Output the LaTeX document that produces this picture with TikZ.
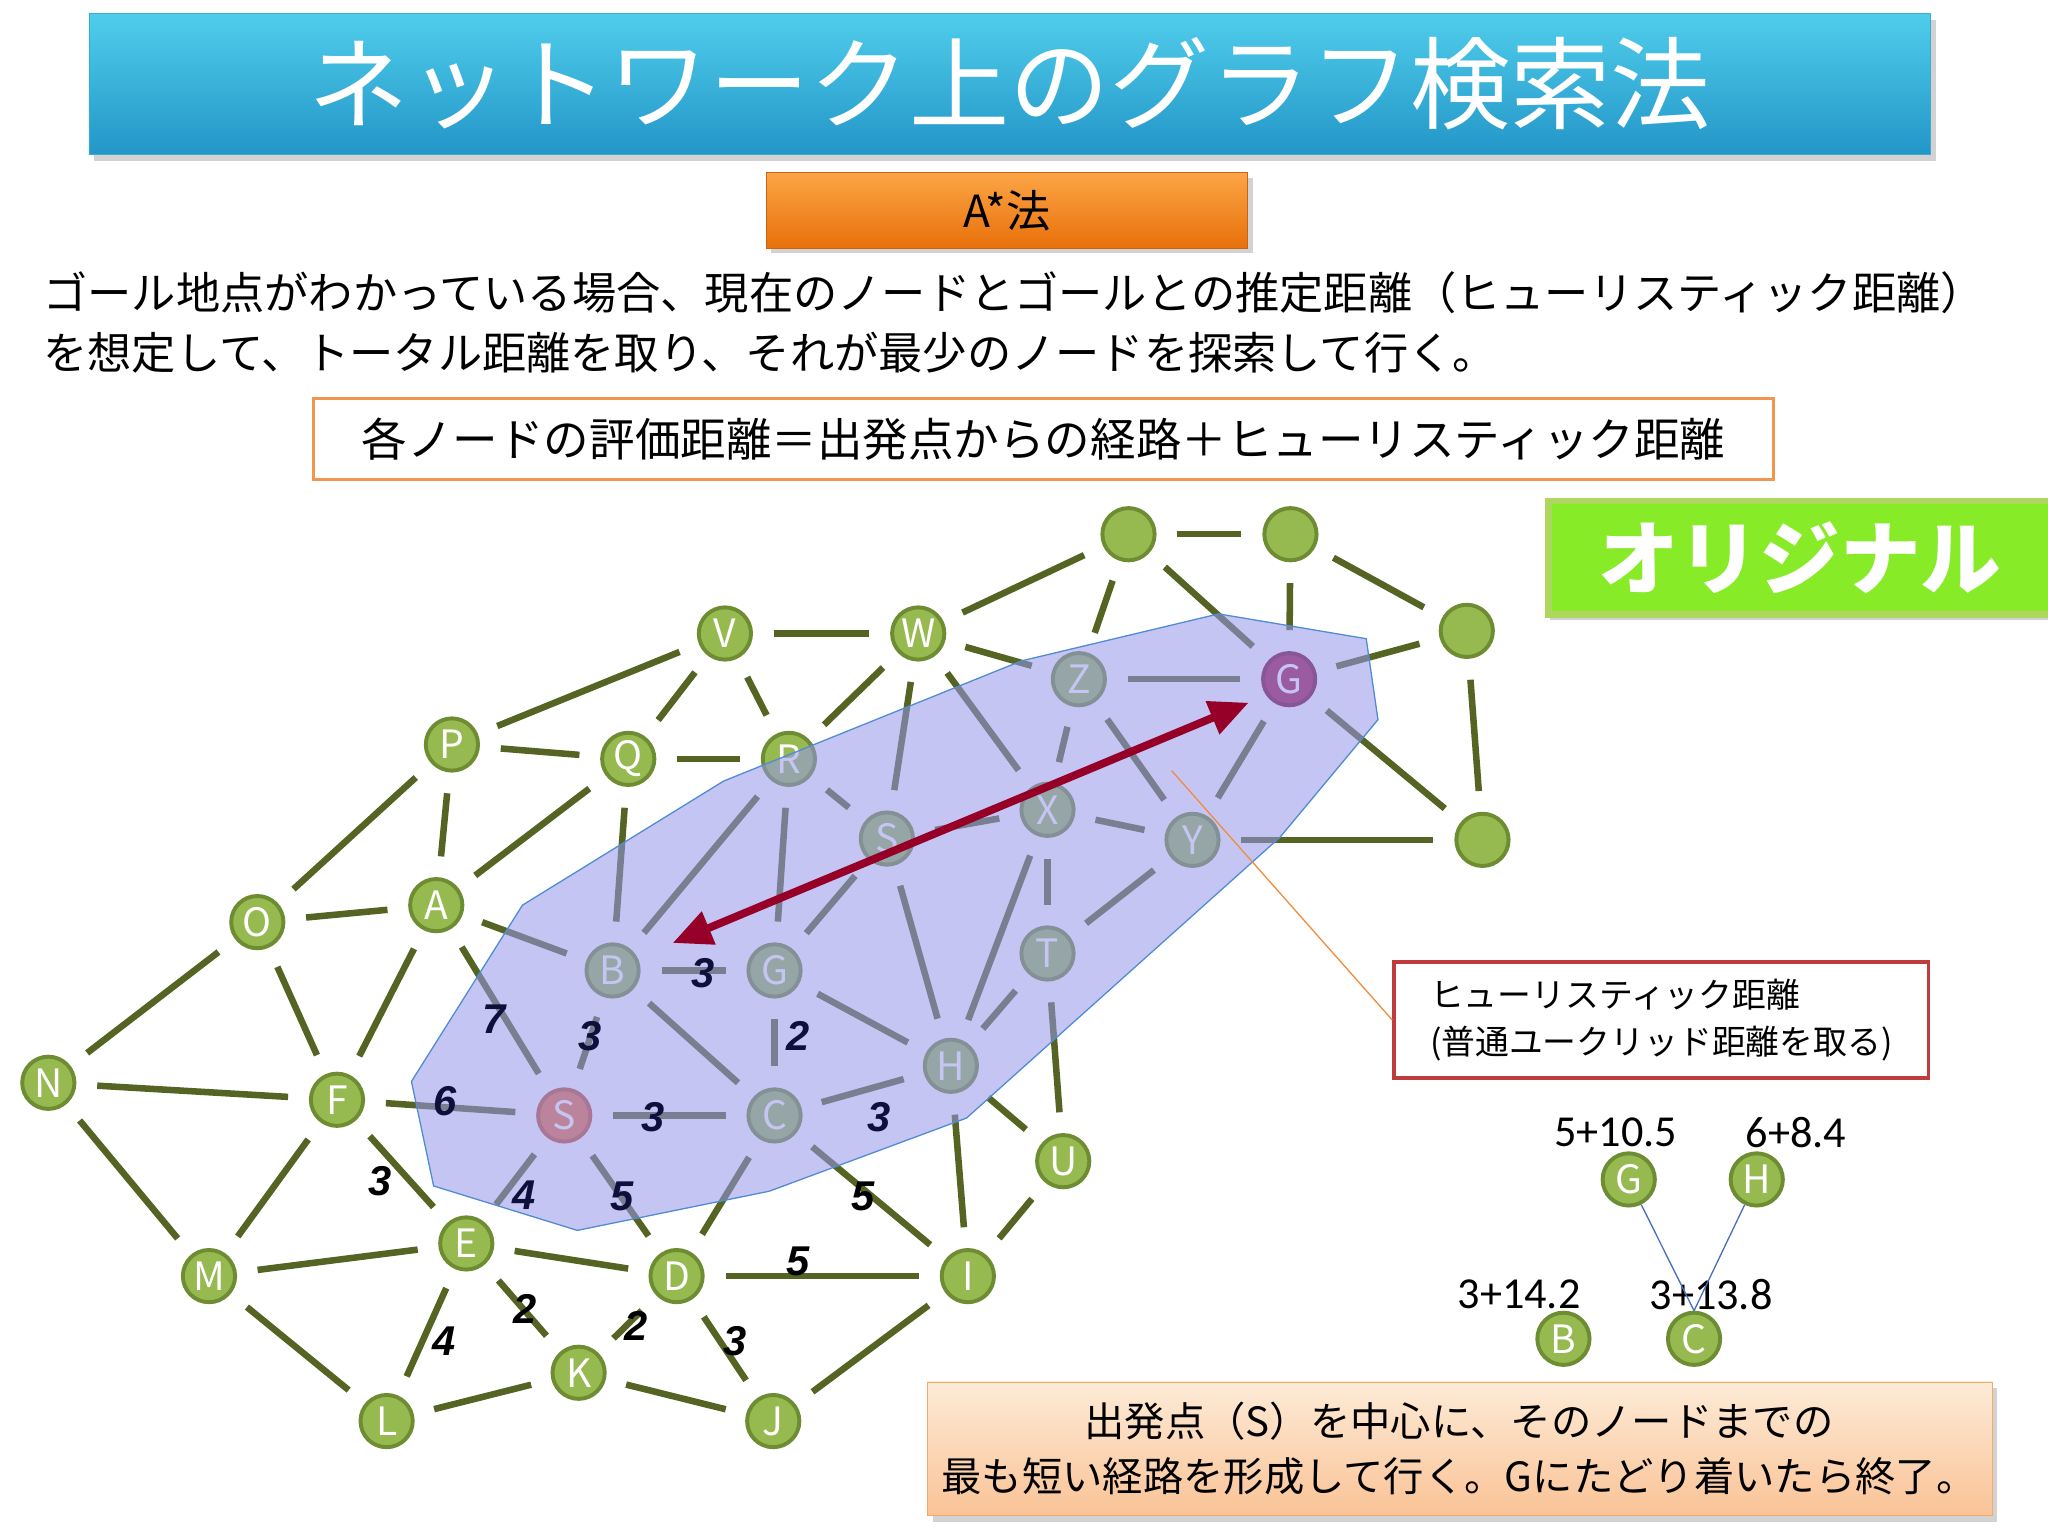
\documentclass[tikz,border=0pt]{standalone}
\usepackage{fontspec}
\setmainfont{Noto Sans CJK JP}
\newfontfamily\numf{Liberation Sans}
\newfontfamily\latf{Carlito}
\usetikzlibrary{arrows.meta}
\definecolor{edgec}{RGB}{85,100,35}
\definecolor{nodef}{RGB}{150,185,80}
\definecolor{noded}{RGB}{110,140,50}
\definecolor{blob}{RGB}{150,150,235}
\definecolor{blobd}{RGB}{80,140,210}
\definecolor{arr}{RGB}{150,0,40}
\definecolor{navy}{RGB}{15,15,60}
\definecolor{sfill}{RGB}{235,110,60}
\definecolor{sdraw}{RGB}{190,80,50}
\definecolor{gfill}{RGB}{160,20,70}
\definecolor{gdraw}{RGB}{120,10,50}
\definecolor{ttop}{RGB}{80,205,235}
\definecolor{tbot}{RGB}{35,150,200}
\definecolor{tdraw}{RGB}{60,170,210}
\definecolor{otop}{RGB}{252,165,70}
\definecolor{obot}{RGB}{232,112,10}
\definecolor{odraw}{RGB}{200,100,20}
\definecolor{fbord}{RGB}{240,150,80}
\definecolor{grf}{RGB}{135,235,40}
\definecolor{grd}{RGB}{175,215,95}
\definecolor{hbord}{RGB}{190,60,60}
\definecolor{cline}{RGB}{240,140,60}
\definecolor{tline}{RGB}{70,110,190}
\definecolor{btop}{RGB}{253,235,215}
\definecolor{bbot}{RGB}{250,195,150}
\definecolor{bdraw}{RGB}{240,170,110}
\begin{document}
\begin{tikzpicture}[x=1bp,y=-1bp,
  gn/.style={circle,fill=nodef,draw=noded,line width=3bp,minimum size=40bp,inner sep=0pt,text=white,font=\fontsize{30}{30}\selectfont},
  sn/.style={gn,fill=sfill,draw=sdraw},
  goal/.style={gn,fill=gfill,draw=gdraw},
  ed/.style={draw=edgec,line width=5bp,shorten >=16bp,shorten <=16bp},
  el/.style={font=\fontsize{32}{32}\selectfont\numf\bfseries\itshape,text=black},
  eli/.style={el,text=navy},
  jt/.style={font=\fontsize{34}{40}\selectfont,anchor=west,inner sep=0pt},
  num/.style={font=\fontsize{34}{34}\selectfont\latf,text=black}]
\useasboundingbox (0,0) rectangle (1568,1176);
% title
\fill[black!35,opacity=0.5] (72,15) rectangle (1482,123);
\shade[top color=ttop,bottom color=tbot,draw=tdraw] (68,10) rectangle (1478,118);
\node[text=white,font=\fontsize{77}{77}\selectfont] (title) at (773,64) {ネットワーク上のグラフ検索法};
\fill[black!35,opacity=0.5] (590,136) rectangle (959,194);
\shade[top color=otop,bottom color=obot,draw=odraw] (587,132) rectangle (955,190);
\node[font=\fontsize{34}{34}\selectfont] (astar) at (771,161) {A*法};
\node[jt] (p1) at (33,224) {ゴール地点がわかっている場合、現在のノードとゴールとの推定距離（ヒューリスティック距離）};
\node[jt] (p2) at (33,270) {を想定して、トータル距離を取り、それが最少のノードを探索して行く。};
\node[draw=fbord,line width=2.5bp,minimum width=1118bp,minimum height=62bp,font=\fontsize{35}{35}\selectfont] (formula) at (799,336) {各ノードの評価距離＝出発点からの経路＋ヒューリスティック距離};
% green label
\fill[black!35,opacity=0.5] (1187,388) rectangle (1568,475);
\node[fill=grf,draw=grd,line width=5bp,minimum width=385bp,minimum height=87bp,text=white,font=\fontsize{62}{62}\selectfont\bfseries] (orig) at (1378,427) {オリジナル};
% nodes
\node[gn] (V) at (555,485) {V};
\node[gn] (W) at (703,485) {W};
\node[gn] (P) at (346,570) {P};
\node[gn] (Q) at (481,581) {Q};
\node[gn] (R) at (604,581) {R};
\node[gn] (O) at (197,706) {O};
\node[gn] (A) at (334,693) {A};
\node[gn] (B) at (469,743) {B};
\node[gn] (G2) at (593,743) {G};
\node[gn] (S2) at (679,642) {S};
\node[gn] (X) at (802,620) {X};
\node[gn] (Y) at (913,643) {Y};
\node[gn] (Z) at (826,520) {Z};
\node[goal] (GG) at (987,520) {G};
\node[gn] (T) at (802,730) {T};
\node[gn] (H) at (728,816) {H};
\node[gn] (N) at (37,829) {N};
\node[gn] (F) at (258,842) {F};
\node[sn] (S) at (432,854) {S};
\node[gn] (C) at (593,854) {C};
\node[gn] (U) at (814,889) {U};
\node[gn] (M) at (160,977) {M};
\node[gn] (E) at (357,952) {E};
\node[gn] (D) at (518,977) {D};
\node[gn] (I) at (741,977) {I};
\node[gn] (K) at (443,1051) {K};
\node[gn] (L) at (296,1088) {L};
\node[gn] (J) at (592,1088) {J};
\node[gn] (t1) at (864,409) {};
\node[gn] (t2) at (988,409) {};
\node[gn] (r1) at (1123,483) {};
\node[gn] (r2) at (1135,643) {};
% edges
\foreach \a/\b in {V/W,V/P,V/Q,V/R,W/R,W/S2,W/X,W/Z,W/t1,P/Q,P/O,P/A,Q/R,Q/A,Q/B,R/B,R/G2,R/S2,O/A,O/N,O/F,A/F,A/B,A/S,B/G2,B/S,B/C,G2/C,G2/H,G2/S2,S2/H,S2/X,X/H,X/T,X/Y,X/Z,Z/Y,Z/GG,Z/t1,t1/t2,t1/GG,t2/GG,t2/r1,GG/r1,GG/Y,GG/r2,r1/r2,Y/r2,Y/T,T/H,T/U,H/C,H/U,H/I,N/F,N/M,F/S,F/M,F/E,S/C,S/E,S/D,C/D,C/I,E/M,E/D,E/K,E/L,M/L,D/I,D/K,D/J,K/L,K/J,I/J,I/U}
  \draw[ed] (\a) -- (\b);
% region
\fill[blob,opacity=0.55,draw=blobd,draw opacity=1,line width=1bp] (315,828) -- (400,693) -- (554,598) -- (782,506) -- (933,470) -- (1046,489) -- (1055,551) -- (980,641) -- (740,856) -- (589,912) -- (442,942) -- (332,908) -- cycle;
% arrow
\coordinate (a1) at (515,722);
\coordinate (a2) at (956,538);
\draw[arr,line width=6bp,{Triangle[length=30bp,width=26bp]}-{Triangle[length=30bp,width=26bp]}] (a1) -- (a2);
% labels
\node[eli] (l1) at (538,745) {3};
\node[eli] (l2) at (378,780) {7};
\node[eli] (l3) at (452,793) {3};
\node[eli] (l4) at (611,793) {2};
\node[eli] (l5) at (341,843) {6};
\node[eli] (l6) at (500,855) {3};
\node[eli] (l7) at (673,855) {3};
\node[el] (l8) at (291,904) {3};
\node[eli] (l9) at (401,915) {4};
\node[eli] (l10) at (476,916) {5};
\node[el] (l11) at (661,916) {5};
\node[el] (l12) at (611,966) {5};
\node[el] (l13) at (402,1002) {2};
\node[el] (l14) at (487,1015) {2};
\node[el] (l15) at (340,1027) {4};
\node[el] (l16) at (563,1027) {3};
% heuristic callout
\coordinate (c1) at (897,590);
\node[draw=hbord,line width=3bp,minimum width=409bp,minimum height=89bp,align=left,font=\fontsize{26}{36}\selectfont,fill=white] (hbox) at (1272,781) {ヒューリスティック距離\\(普通ユークリッド距離を取る)};
\draw[cline,line width=1bp] (c1) -- (hbox.west);
% small tree
\node[num] (n1) at (1237,867) {5+10.5};
\node[num] (n2) at (1375,867) {6+8.4};
\node[gn] (sG) at (1247,903) {G};
\node[gn] (sH) at (1345,903) {H};
\node[num] (n3) at (1163,991) {3+14.2};
\node[num] (n4) at (1310,991) {3+13.8};
\node[gn] (sB) at (1197,1025) {B};
\node[gn] (sC) at (1297,1025) {C};
\draw[tline,line width=1bp] (sG) -- (sC.north);
\draw[tline,line width=1bp] (sH) -- (sC.north);
% bottom box
\fill[black!35,opacity=0.5] (714,1063) rectangle (1529,1165);
\shade[top color=btop,bottom color=bbot,draw=bdraw] (710,1058) rectangle (1525,1160);
\node[align=center,font=\fontsize{31}{42}\selectfont] (btxt) at (1117,1109) {出発点（S）を中心に、そのノードまでの\\最も短い経路を形成して行く。Gにたどり着いたら終了。};
\end{tikzpicture}
\end{document}
